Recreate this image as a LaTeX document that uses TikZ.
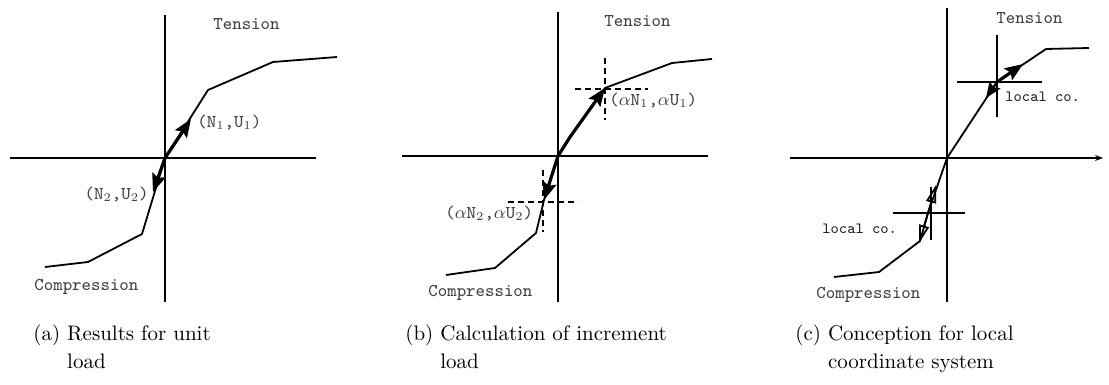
\documentclass[tikz,border=0pt]{standalone}
\usetikzlibrary{arrows.meta}
\tikzset{
  axis/.style={line width=0.6pt},
  curve/.style={line width=0.9pt, line join=round},
  bigarrow/.style={line width=1.6pt, -{Stealth[length=9pt,width=7pt,inset=1.5pt]}},
  midarrow/.style={line width=1.1pt, -{Stealth[length=8pt,width=6.5pt,inset=1.5pt]}},
  openarrow/.style={line width=0.9pt, -{Triangle[open,length=9pt,width=5pt]}},
  guide/.style={line width=0.6pt, dash pattern=on 3pt off 2pt},
  localax/.style={line width=0.6pt},
  lbl/.style={font=\ttfamily\fontsize{9}{10}\selectfont, text=black!75, inner sep=0pt},
  smalllbl/.style={font=\ttfamily\fontsize{7.8}{9}\selectfont, text=black!85, inner sep=0pt},
  capstyle/.style={font=\fontsize{10.5}{13.8}\selectfont, inner sep=0pt, anchor=north west}
}
\begin{document}
\begin{tikzpicture}[x=0.5pt,y=-0.5pt]
\useasboundingbox (0,0) rectangle (1109,385);
% ---------------- panel (a) ----------------
\coordinate (aO) at (165,158);
\coordinate (aT) at (165,15); \coordinate (aB) at (165,302);
\coordinate (aL) at (10,158); \coordinate (aR) at (316,158);
\draw[axis] (aT) -- (aB);
\draw[axis] (aL) -- (aR);
\coordinate (a1) at (45,267); \coordinate (a2) at (88,262); \coordinate (a3) at (142,234);
\coordinate (a5) at (208,90); \coordinate (a6) at (273,62); \coordinate (a7) at (337,57);
\draw[curve] (a1) -- (a2) -- (a3) -- (aO) -- (a5) -- (a6) -- (a7);
\coordinate (aP1) at (191,119); \coordinate (aP2) at (153,192);
\draw[bigarrow] (aO) -- (aP1);
\draw[bigarrow] (aO) -- (aP2);
\node[lbl, anchor=west] (aN1) at (197,123) {(N$_1$,U$_1$)};
\node[lbl, anchor=east] (aN2) at (149,195) {(N$_2$,U$_2$)};
\node[lbl, anchor=west] (aTen) at (213,24) {Tension};
\node[lbl, anchor=west] (aCom) at (34,287) {Compression};
% ---------------- panel (b) ----------------
\coordinate (bO) at (558,156);
\coordinate (bT) at (558,12); \coordinate (bB) at (558,302);
\coordinate (bL) at (402,156); \coordinate (bR) at (708,156);
\draw[axis] (bT) -- (bB);
\draw[axis] (bL) -- (bR);
\coordinate (b1) at (446,275); \coordinate (b2) at (495,268); \coordinate (b3) at (536,233);
\coordinate (b4) at (544,200); \coordinate (b5) at (570,137); \coordinate (b6) at (605,88);
\coordinate (b7) at (672,63); \coordinate (b8) at (712,59);
\draw[curve] (b1) -- (b2) -- (b3) -- (b4) -- (bO) -- (b5) -- (b6) -- (b7) -- (b8);
\draw[guide] (575,89) -- (648,89);
\draw[guide] (605,58) -- (605,120);
\draw[guide] (508,202) -- (578,202);
\draw[guide] (543,170) -- (543,232);
\draw[bigarrow] (bO) -- (b5) -- (b6);
\draw[bigarrow] (bO) -- (b4);
\node[lbl, anchor=west] (bN1) at (609,101) {($\alpha$N$_1$,$\alpha$U$_1$)};
\node[lbl, anchor=west] (bN2) at (445,214) {($\alpha$N$_2$,$\alpha$U$_2$)};
\node[lbl, anchor=west] (bTen) at (604,21) {Tension};
\node[lbl, anchor=west] (bCom) at (428,293) {Compression};
% ---------------- panel (c) ----------------
\coordinate (cO) at (947,158);
\coordinate (cT) at (947,8); \coordinate (cB) at (947,302);
\coordinate (cL) at (790,158); \coordinate (cR) at (1103,158);
\draw[axis] (cT) -- (cB);
\draw[axis, -{Stealth[length=4pt,width=3pt]}] (cL) -- (cR);
\coordinate (c1) at (834,277); \coordinate (c2) at (879,272); \coordinate (c3) at (920,241);
\coordinate (c4) at (928,213); \coordinate (c6) at (997,82); \coordinate (c7) at (1046,49);
\coordinate (c8) at (1089,48);
\draw[curve] (c1) -- (c2) -- (c3) -- (c4) -- (cO) -- (c6) -- (c7) -- (c8);
% upper local coordinate
\draw[localax] (997,35) -- (997,117);
\draw[localax] (957,82) -- (1042,82);
\coordinate (cU1) at (1023,64); \coordinate (cU2) at (986,98);
\draw[bigarrow] (c6) -- (cU1);
\draw[midarrow] (c6) -- (cU2);
% lower local coordinate
\draw[localax] (893,213) -- (965,213);
\draw[localax] (931,187) -- (931,240);
\coordinate (cD1) at (936,185); \coordinate (cD2) at (919,243);
\draw[openarrow] (c4) -- (cD1);
\draw[openarrow] (c4) -- (cD2);
\node[smalllbl, anchor=west] (cLoc1) at (1005,97) {local co.};
\node[smalllbl, anchor=west] (cLoc2) at (822,229) {local co.};
\node[lbl, anchor=west] (cTen) at (996,18) {Tension};
\node[lbl, anchor=west] (cCom) at (816,295) {Compression};
% ---------------- captions ----------------
\node[capstyle] (capa) at (33,321) {\begin{tabular}{@{}l@{ }l@{}}(a)&Results for unit\\&load\end{tabular}};
\node[capstyle] (capb) at (405,321) {\begin{tabular}{@{}l@{ }l@{}}(b)&Calculation of increment\\&load\end{tabular}};
\node[capstyle] (capc) at (795,321) {\begin{tabular}{@{}l@{ }l@{}}(c)&Conception for local\\&coordinate system\end{tabular}};
\end{tikzpicture}
\end{document}
